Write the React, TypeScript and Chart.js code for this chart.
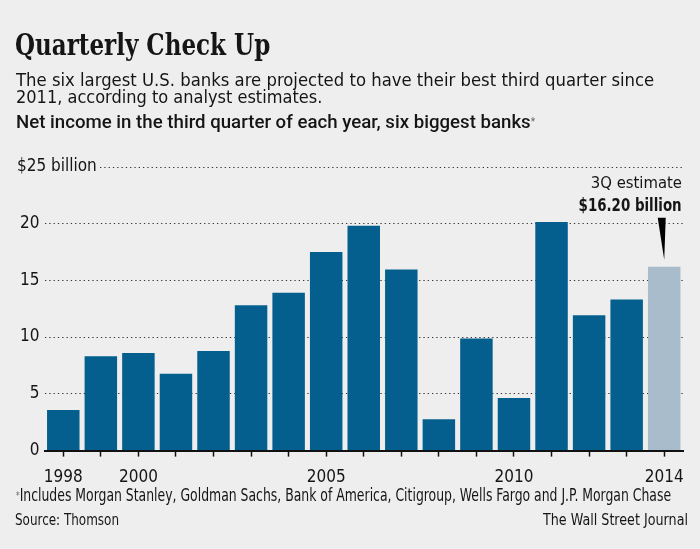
import React, { useEffect, useLayoutEffect, useRef, useState } from "react";
import { Chart, registerables } from "chart.js";

Chart.register(...registerables);

// ---------- data ----------
const years = [
  "1998", "1999", "2000", "2001", "2002", "2003", "2004", "2005", "2006",
  "2007", "2008", "2009", "2010", "2011", "2012", "2013", "2014",
];
const netIncomeBillions = [
  3.58, 8.3, 8.59, 6.76, 8.77, 12.79, 13.9, 17.48, 19.81,
  15.94, 2.76, 9.88, 4.63, 20.13, 11.91, 13.31, 16.2,
];
const estimateYear = "2014";
const yTickValues = [0, 5, 10, 15, 20, 25];
const yTopLabel = "$25 billion";
const xTickLabels = ["1998", "2000", "2005", "2010", "2014"];

const BG = "#eeeeee";
const BAR = "#045f8f";
const BAR_EST = "#a9bccb";
const INK = "#151515";
const SANS = '"DejaVu Sans Condensed", "Liberation Sans Narrow", "Open Sans", sans-serif';
const SANS_MED = 'Roboto, "DejaVu Sans Condensed", sans-serif';
const SERIF = '"DejaVu Serif Condensed", "DejaVu Serif", "Liberation Serif", serif';

type FitProps = {
  left?: number;
  right?: number;
  top: number;
  width: number;
  size: number;
  weight?: number | string;
  family?: string;
  children: React.ReactNode;
};

function Fit({ left, right, top, width, size, weight = 400, family = SANS, children }: FitProps) {
  const ref = useRef<HTMLSpanElement>(null);
  const [scale, setScale] = useState(1);
  useLayoutEffect(() => {
    const el = ref.current;
    if (!el) return;
    const w = el.offsetWidth;
    if (w > 0) setScale(width / w);
  }, [width]);
  const style: React.CSSProperties = {
    position: "absolute",
    top,
    whiteSpace: "nowrap",
    fontFamily: family,
    fontSize: size,
    fontWeight: weight as any,
    lineHeight: `${size}px`,
    color: INK,
    display: "inline-block",
    transform: `scaleX(${scale})`,
    transformOrigin: right !== undefined ? "right top" : "left top",
  };
  if (right !== undefined) style.right = right;
  else style.left = left;
  return (
    <span ref={ref} style={style}>
      {children}
    </span>
  );
}

function BarChart() {
  const canvasRef = useRef<HTMLCanvasElement>(null);

  useEffect(() => {
    const canvas = canvasRef.current;
    if (!canvas) return;

    const overlay = {
      id: "overlay",
      beforeDatasetsDraw(chart: any) {
        const { ctx, chartArea, scales } = chart;
        const y = scales.y;
        const yy = y.getPixelForValue(25);
        ctx.save();
        ctx.font = `17px ${SANS}`;
        ctx.fillStyle = INK;
        ctx.textAlign = "left";
        ctx.textBaseline = "middle";
        ctx.fillText(yTopLabel, 17, yy);
        ctx.strokeStyle = "#333";
        ctx.lineWidth = 1;
        ctx.setLineDash([1.3, 3]);
        ctx.beginPath();
        ctx.moveTo(100, Math.round(yy) + 0.5);
        ctx.lineTo(chartArea.right, Math.round(yy) + 0.5);
        ctx.stroke();
        ctx.restore();
      },
      afterDatasetsDraw(chart: any) {
        const { ctx, scales } = chart;
        const idx = years.indexOf(estimateYear);
        const x = scales.x.getPixelForValue(idx);
        const yTip = scales.y.getPixelForValue(netIncomeBillions[idx]) - 7;
        const yTop = scales.y.getPixelForValue(20.5);
        ctx.save();
        ctx.fillStyle = "#000";
        ctx.beginPath();
        ctx.moveTo(x - 6.5, yTop);
        ctx.lineTo(x + 1.5, yTop);
        ctx.lineTo(x, yTip);
        ctx.closePath();
        ctx.fill();
        ctx.restore();
      },
    };

    const chart = new Chart(canvas, {
      type: "bar",
      data: {
        labels: years,
        datasets: [
          {
            data: netIncomeBillions,
            backgroundColor: years.map((yr) => (yr === estimateYear ? BAR_EST : BAR)),
            borderWidth: 0,
            categoryPercentage: 1,
            barPercentage: 0.865,
          },
        ],
      },
      options: {
        animation: false,
        responsive: true,
        maintainAspectRatio: false,
        layout: { padding: { left: 0, right: 17, top: 166.7, bottom: 51 } },
        plugins: { legend: { display: false }, tooltip: { enabled: false }, title: { display: false } },
        scales: {
          x: {
            type: "category",
            offset: true,
            grid: {
              drawOnChartArea: false,
              drawTicks: true,
              tickLength: 6,
              tickWidth: 1.5,
              tickColor: "#111",
              offset: false,
            },
            border: { display: true, color: "#111", width: 2 },
            ticks: {
              autoSkip: false,
              maxRotation: 0,
              minRotation: 0,
              padding: 10.5,
              color: INK,
              font: { family: SANS, size: 17 },
              callback: (_v: any, i: number) => (xTickLabels.includes(years[i]) ? years[i] : ""),
            },
          },
          y: {
            min: 0,
            max: 25,
            afterBuildTicks: (scale: any) => {
              scale.ticks = yTickValues.map((v) => ({ value: v }));
            },
            afterFit: (scale: any) => {
              scale.width = 44.5;
            },
            grid: {
              drawTicks: false,
              lineWidth: 1,
              color: (ctx: any) =>
                ctx.tick && (ctx.tick.value === 25 || ctx.tick.value === 0) ? "rgba(0,0,0,0)" : "#333",
            },
            border: { display: false, dash: [1.3, 3] },
            ticks: {
              padding: 5,
              color: INK,
              font: { family: SANS, size: 17 },
              callback: (v: any) => (v === 25 ? "" : String(v)),
            },
          },
        },
      },
      plugins: [overlay],
    } as any);

    return () => chart.destroy();
  }, []);

  return (
    <div style={{ position: "absolute", left: 0, top: 0, width: 700, height: 549 }}>
      <canvas ref={canvasRef} />
    </div>
  );
}

export default function App() {
  return (
    <div
      style={{
        position: "fixed",
        left: 0,
        top: 0,
        width: 700,
        height: 549,
        background: BG,
        overflow: "hidden",
      }}
    >
      <BarChart />
      <Fit left={15} top={29.6} width={255} size={30} weight={700} family={SERIF}>
        Quarterly Check Up
      </Fit>
      <Fit left={16} top={70.8} width={638} size={18}>
        The six largest U.S. banks are projected to have their best third quarter since
      </Fit>
      <Fit left={16} top={88.1} width={306} size={18}>
        2011, according to analyst estimates.
      </Fit>
      <Fit left={16} top={112.6} width={519} size={18.5} weight={500} family={SANS_MED}>
        Net income in the third quarter of each year, six biggest banks
        <span style={{ fontSize: 10, verticalAlign: "top", fontWeight: 400, color: "#666" }}>*</span>
      </Fit>
      <Fit right={18} top={175.2} width={91} size={16.5}>
        3Q estimate
      </Fit>
      <Fit right={18} top={196.6} width={103.4} size={17} weight={700}>
        $16.20 billion
      </Fit>
      <Fit left={15.5} top={487.3} width={655} size={17}>
        <span style={{ fontSize: 10, verticalAlign: "top", color: "#666" }}>*</span>
        Includes Morgan Stanley, Goldman Sachs, Bank of America, Citigroup, Wells Fargo and J.P. Morgan Chase
      </Fit>
      <Fit left={15} top={511.8} width={104} size={16}>
        Source: Thomson
      </Fit>
      <Fit right={12.3} top={511.8} width={145} size={16}>
        The Wall Street Journal
      </Fit>
    </div>
  );
}
